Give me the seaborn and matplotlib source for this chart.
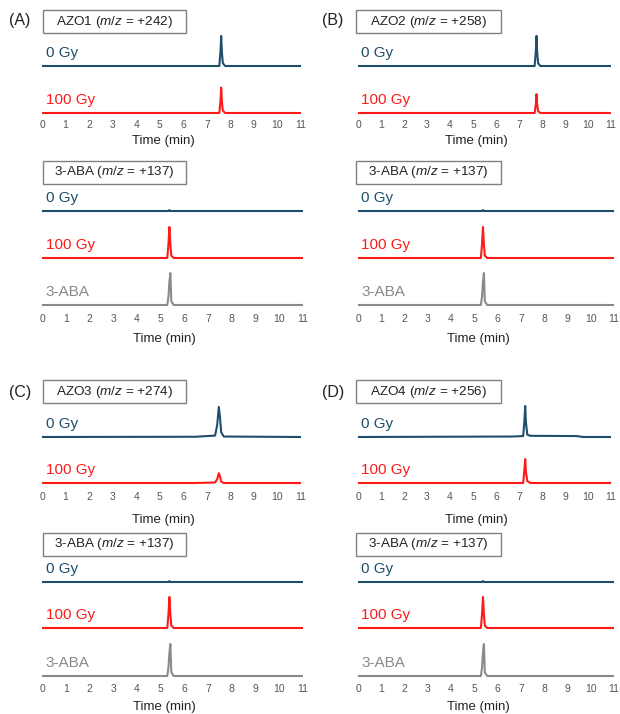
import numpy as np
import matplotlib.pyplot as plt
from matplotlib.patches import Rectangle
import seaborn as sns

W, H = 620, 714

# ---- chromatogram traces (time in min, intensity normalised to trace spacing) ----
t_azo1 = [0, 7.53, 7.58, 7.61, 7.64, 7.68, 7.78, 11]
azo1_0gy = [0, 0, 0.30, 0.64, 0.30, 0.06, 0, 0]
azo1_100gy = [0, 0, 0.25, 0.54, 0.24, 0.05, 0, 0]

t_azo2 = [0, 7.68, 7.73, 7.76, 7.79, 7.83, 7.93, 11]
azo2_0gy = [0, 0, 0.30, 0.64, 0.30, 0.06, 0, 0]
azo2_100gy = [0, 0, 0.18, 0.40, 0.18, 0.04, 0, 0]

t_azo3 = [0, 6.50, 7.35, 7.44, 7.51, 7.56, 7.61, 7.72, 11]
azo3_0gy = [0, 0.005, 0.03, 0.25, 0.64, 0.42, 0.10, 0.01, 0]
azo3_100gy = [0, 0, 0.01, 0.08, 0.21, 0.14, 0.03, 0, 0]

t_azo4 = [0, 6.70, 7.18, 7.23, 7.27, 7.30, 7.36, 7.50, 9.50, 9.80, 11]
azo4_0gy = [0, 0.01, 0.02, 0.30, 0.66, 0.32, 0.05, 0.025, 0.02, 0, 0]
azo4_100gy = [0, 0, 0, 0.25, 0.51, 0.24, 0.04, 0, 0, 0, 0]

t_aba = [0, 5.28, 5.33, 5.37, 5.41, 5.45, 5.55, 11]
aba_0gy = [0, 0, 0, 0.02, 0, 0, 0, 0]
aba_100gy = [0, 0, 0.30, 0.66, 0.28, 0.05, 0, 0]
aba_std = [0, 0, 0.18, 0.50, 0.68, 0.08, 0, 0]

panel_labels = ["(A)", "(B)", "(C)", "(D)"]
azo_titles = ["AZO1", "AZO2", "AZO3", "AZO4"]
azo_mz = ["+242", "+258", "+274", "+256"]
aba_title, aba_mz = "3-ABA", "+137"
azo_times = [t_azo1, t_azo2, t_azo3, t_azo4]
azo_0gy = [azo1_0gy, azo2_0gy, azo3_0gy, azo4_0gy]
azo_100gy = [azo1_100gy, azo2_100gy, azo3_100gy, azo4_100gy]
trace_names = ["0 Gy", "100 Gy", "3-ABA"]
x_ticks = list(range(12))

C_0GY, C_100GY, C_STD = "#1f4e6b", "#ff1a1a", "#8a8a8a"

sns.set_theme(style="white")
plt.rcParams["font.family"] = ["Liberation Sans", "DejaVu Sans"]
plt.rcParams["mathtext.fontset"] = "custom"
plt.rcParams["mathtext.rm"] = "Liberation Sans"
plt.rcParams["mathtext.it"] = "Liberation Sans:italic"

fig = plt.figure(figsize=(W / 100, H / 100), dpi=100)
fig.patch.set_facecolor("white")

UNIT = 47.0  # px between stacked traces


def fx(px):
    return px / W


def fy(py):
    return 1 - py / H


def draw_box(x0, x1, y0, y1, text):
    fig.patches.append(Rectangle((fx(x0), fy(y1)), fx(x1 - x0), (y1 - y0) / H,
                                 transform=fig.transFigure, fill=False,
                                 edgecolor="#808080", linewidth=1.0))
    fig.text(fx((x0 + x1) / 2), fy((y0 + y1) / 2), text, ha="center",
             va="center", fontsize=9.7, color="#222222")


def draw_group(left, right, baselines, traces, tick_y, time_y):
    ax_bottom = baselines[-1] + 4
    ax_top = baselines[0] - 42
    ax = fig.add_axes([fx(left), fy(ax_bottom), fx(right - left),
                       (ax_bottom - ax_top) / H])
    for base, (t, y, color, name) in zip(baselines, traces):
        off = (baselines[-1] - base) / UNIT
        sns.lineplot(x=t, y=np.asarray(y) + off, ax=ax, color=color,
                     linewidth=1.5, estimator=None)
        ax.text(0.15, off + 13 / UNIT, name, color=color, fontsize=11,
                ha="left", va="center")
    ax.set_xlim(0, 11)
    ax.set_ylim(-4 / UNIT, (baselines[-1] - ax_top) / UNIT)
    ax.set_xticks(x_ticks)
    ax.set_xticklabels([str(v) for v in x_ticks])
    ax.set_yticks([])
    pad_px = tick_y - 5.5 - ax_bottom
    ax.tick_params(axis="x", length=0, pad=pad_px * 0.72, labelsize=7.5,
                   labelcolor="#555555")
    for s in ax.spines.values():
        s.set_visible(False)
    ax.set_facecolor("none")
    fig.text(fx((left + right) / 2 - 8), fy(time_y), "Time (min)",
             ha="center", va="center", fontsize=9.5, color="#222222")
    return ax


# geometry per row of panels
rows = [
    dict(label_y=21, box_top=(10, 33), top_base=[66, 113], top_tick=125.5, top_time=141,
         box_bot=(161, 184), bot_base=[211, 258, 305], bot_tick=320, bot_time=339),
    dict(label_y=392, box_top=(380, 403), top_base=[437, 483], top_tick=497, top_time=520,
         box_bot=(533, 556), bot_base=[582, 628, 676], bot_tick=689, bot_time=707),
]
cols = [
    dict(label_x=9, box=(43, 186), top_lr=(42, 301), bot_lr=(42, 303)),
    dict(label_x=322, box=(356, 501), top_lr=(358, 611), bot_lr=(358, 614)),
]

for i in range(4):
    r, c = rows[i // 2], cols[i % 2]
    fig.text(fx(c["label_x"]), fy(r["label_y"]), panel_labels[i], fontsize=11.5,
             ha="left", va="center", color="#222222")
    draw_box(c["box"][0], c["box"][1], r["box_top"][0], r["box_top"][1],
             f"{azo_titles[i]} ($m/z$ = {azo_mz[i]})")
    draw_group(c["top_lr"][0], c["top_lr"][1], r["top_base"],
               [(azo_times[i], azo_0gy[i], C_0GY, trace_names[0]),
                (azo_times[i], azo_100gy[i], C_100GY, trace_names[1])],
               r["top_tick"], r["top_time"])
    draw_box(c["box"][0], c["box"][1], r["box_bot"][0], r["box_bot"][1],
             f"{aba_title} ($m/z$ = {aba_mz})")
    draw_group(c["bot_lr"][0], c["bot_lr"][1], r["bot_base"],
               [(t_aba, aba_0gy, C_0GY, trace_names[0]),
                (t_aba, aba_100gy, C_100GY, trace_names[1]),
                (t_aba, aba_std, C_STD, trace_names[2])],
               r["bot_tick"], r["bot_time"])

fig.savefig("out.png", dpi=100)
